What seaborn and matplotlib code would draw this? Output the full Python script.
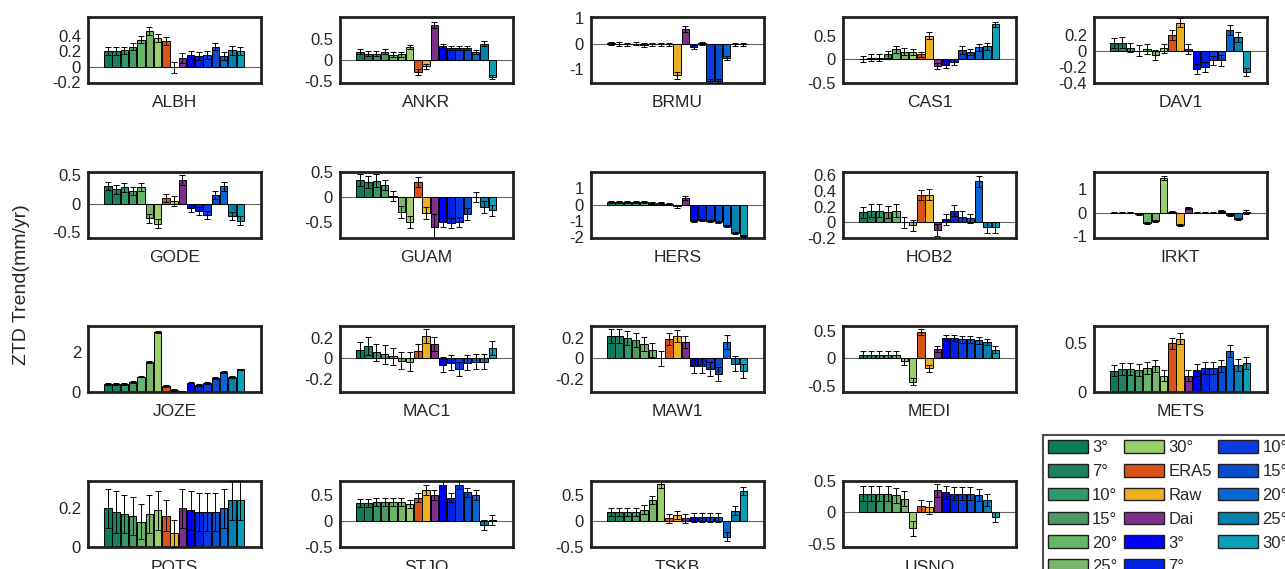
import numpy as np
import pandas as pd
import matplotlib
matplotlib.use('Agg')
import matplotlib.pyplot as plt
from matplotlib.patches import Patch
import seaborn as sns

sns.set_style('white')
plt.rcParams['font.family'] = ['Liberation Sans', 'DejaVu Sans']

# bar order: 7 green angles, ERA5, Raw, Dai, 7 blue angles
bar_keys = ['g3', 'g7', 'g10', 'g15', 'g20', 'g25', 'g30',
            'ERA5', 'Raw', 'Dai',
            'b3', 'b7', 'b10', 'b15', 'b20', 'b25', 'b30']
bar_labels = ['3°', '7°', '10°', '15°', '20°', '25°', '30°',
              'ERA5', 'Raw', 'Dai',
              '3°', '7°', '10°', '15°', '20°', '25°', '30°']
bar_colors = ['#0b7c5b', '#1f8060', '#2f9a68', '#4c9a63', '#63b766', '#7bb56a', '#9bcf6a',
              '#d95319', '#edb120', '#7e2f8e',
              '#0000ff', '#0021e6', '#0a3be0', '#0a4ed0', '#0867d6', '#0581b0', '#0aa0b8']

stations = ['ALBH', 'ANKR', 'BRMU', 'CAS1', 'DAV1',
            'GODE', 'GUAM', 'HERS', 'HOB2', 'IRKT',
            'JOZE', 'MAC1', 'MAW1', 'MEDI', 'METS',
            'POTS', 'STJO', 'TSKB', 'USNO']

ALBH = [0.20, 0.20, 0.21, 0.26, 0.35, 0.46, 0.37, 0.33, -0.01, 0.11, 0.15, 0.14, 0.15, 0.26, 0.14, 0.21, 0.20]
ANKR = [0.20, 0.16, 0.16, 0.20, 0.13, 0.14, 0.32, -0.28, -0.15, 0.84, 0.33, 0.30, 0.29, 0.30, 0.20, 0.40, -0.40]
BRMU = [0.01, -0.02, -0.02, 0.00, -0.05, -0.02, -0.03, -0.03, -1.25, 0.57, -0.15, 0.02, -1.48, -1.48, -0.55, -0.03, -0.03]
CAS1 = [0.00, 0.03, 0.03, 0.10, 0.21, 0.16, 0.15, 0.10, 0.50, -0.15, -0.12, -0.06, 0.20, 0.15, 0.25, 0.27, 0.74]
DAV1 = [0.10, 0.10, 0.04, 0.00, 0.02, -0.05, 0.03, 0.20, 0.35, 0.02, -0.23, -0.20, -0.12, -0.12, 0.26, 0.17, -0.26]
GODE = [0.31, 0.26, 0.29, 0.23, 0.29, -0.25, -0.35, 0.10, 0.05, 0.42, -0.08, -0.12, -0.20, 0.16, 0.31, -0.22, -0.30]
GUAM = [0.35, 0.31, 0.33, 0.24, 0.03, -0.30, -0.50, 0.30, -0.33, -0.60, -0.50, -0.53, -0.50, -0.35, 0.00, -0.20, -0.27]
HERS = [0.18, 0.18, 0.18, 0.18, 0.15, 0.10, 0.07, 0.02, -0.10, 0.40, -1.00, -0.95, -1.00, -1.05, -1.30, -1.75, -1.90]
HOB2 = [0.13, 0.15, 0.15, 0.13, 0.15, 0.00, -0.04, 0.35, 0.35, -0.10, 0.04, 0.15, 0.07, 0.05, 0.52, -0.06, -0.06]
IRKT = [0.00, 0.00, 0.00, -0.05, -0.45, -0.38, 1.50, 0.02, -0.55, 0.20, 0.00, 0.00, 0.00, 0.08, -0.10, -0.27, 0.03]
JOZE = [0.39, 0.39, 0.40, 0.50, 0.76, 1.50, 2.97, 0.30, 0.10, 0.00, 0.47, 0.35, 0.44, 0.68, 0.98, 0.75, 1.12]
MAC1 = [0.08, 0.12, 0.06, 0.04, 0.02, -0.02, -0.03, 0.07, 0.22, 0.14, -0.06, -0.04, -0.10, -0.04, -0.03, -0.03, 0.10]
MAW1 = [0.22, 0.22, 0.20, 0.18, 0.14, 0.08, 0.00, 0.19, 0.22, 0.16, -0.07, -0.07, -0.10, -0.15, 0.16, -0.05, -0.12]
MEDI = [0.07, 0.07, 0.07, 0.07, 0.07, -0.05, -0.42, 0.48, -0.18, 0.17, 0.37, 0.37, 0.35, 0.35, 0.33, 0.30, 0.16]
METS = [0.22, 0.24, 0.24, 0.23, 0.25, 0.27, 0.17, 0.50, 0.55, 0.17, 0.23, 0.25, 0.25, 0.27, 0.42, 0.28, 0.30]
POTS = [0.20, 0.18, 0.17, 0.16, 0.13, 0.17, 0.19, 0.16, 0.07, 0.20, 0.19, 0.18, 0.18, 0.18, 0.20, 0.24, 0.24]
STJO = [0.35, 0.35, 0.37, 0.37, 0.37, 0.36, 0.33, 0.45, 0.60, 0.50, 0.70, 0.45, 0.70, 0.55, 0.50, -0.08, 0.02]
TSKB = [0.17, 0.17, 0.17, 0.18, 0.22, 0.40, 0.72, 0.05, 0.12, 0.05, 0.07, 0.07, 0.07, 0.07, -0.30, 0.20, 0.58]
USNO = [0.30, 0.30, 0.30, 0.30, 0.27, 0.22, -0.25, 0.10, 0.08, 0.35, 0.32, 0.30, 0.30, 0.30, 0.28, 0.20, -0.08]

# error bar half-lengths
ALBH_err = [0.05, 0.05, 0.05, 0.05, 0.05, 0.05, 0.05, 0.05, 0.07, 0.06, 0.05, 0.05, 0.05, 0.04, 0.05, 0.06, 0.05]
ANKR_err = [0.06, 0.06, 0.06, 0.06, 0.06, 0.06, 0.05, 0.07, 0.06, 0.07, 0.06, 0.05, 0.05, 0.05, 0.05, 0.05, 0.05]
BRMU_err = [0.07, 0.07, 0.06, 0.06, 0.08, 0.06, 0.07, 0.06, 0.15, 0.12, 0.08, 0.06, 0.08, 0.08, 0.08, 0.07, 0.06]
CAS1_err = [0.07, 0.08, 0.08, 0.07, 0.07, 0.08, 0.07, 0.06, 0.07, 0.07, 0.08, 0.07, 0.08, 0.07, 0.07, 0.07, 0.06]
DAV1_err = [0.06, 0.07, 0.06, 0.07, 0.06, 0.06, 0.06, 0.06, 0.06, 0.06, 0.06, 0.06, 0.06, 0.07, 0.06, 0.06, 0.05]
GODE_err = [0.07, 0.08, 0.08, 0.07, 0.07, 0.08, 0.08, 0.07, 0.08, 0.09, 0.07, 0.07, 0.07, 0.07, 0.08, 0.07, 0.08]
GUAM_err = [0.12, 0.12, 0.13, 0.10, 0.10, 0.12, 0.12, 0.10, 0.12, 0.25, 0.10, 0.10, 0.10, 0.12, 0.10, 0.12, 0.12]
HERS_err = [0.06, 0.06, 0.06, 0.06, 0.06, 0.06, 0.06, 0.06, 0.08, 0.10, 0.06, 0.06, 0.06, 0.06, 0.06, 0.06, 0.06]
HOB2_err = [0.07, 0.08, 0.08, 0.08, 0.08, 0.07, 0.07, 0.06, 0.07, 0.08, 0.07, 0.07, 0.07, 0.06, 0.07, 0.07, 0.07]
IRKT_err = [0.04, 0.04, 0.04, 0.04, 0.05, 0.05, 0.08, 0.03, 0.04, 0.04, 0.03, 0.03, 0.03, 0.04, 0.04, 0.05, 0.08]
JOZE_err = [0.04, 0.04, 0.04, 0.04, 0.04, 0.04, 0.05, 0.04, 0.04, 0.03, 0.04, 0.04, 0.04, 0.04, 0.04, 0.04, 0.04]
MAC1_err = [0.08, 0.09, 0.08, 0.09, 0.08, 0.08, 0.09, 0.07, 0.07, 0.07, 0.07, 0.07, 0.07, 0.07, 0.07, 0.07, 0.07]
MAW1_err = [0.07, 0.07, 0.07, 0.07, 0.07, 0.07, 0.07, 0.06, 0.06, 0.06, 0.07, 0.07, 0.07, 0.07, 0.07, 0.07, 0.07]
MEDI_err = [0.06, 0.06, 0.06, 0.06, 0.06, 0.06, 0.07, 0.06, 0.07, 0.06, 0.06, 0.06, 0.06, 0.06, 0.06, 0.06, 0.06]
METS_err = [0.06, 0.06, 0.06, 0.06, 0.06, 0.06, 0.06, 0.06, 0.06, 0.06, 0.06, 0.06, 0.06, 0.06, 0.06, 0.06, 0.06]
POTS_err = [0.10, 0.11, 0.10, 0.10, 0.09, 0.10, 0.10, 0.08, 0.07, 0.10, 0.10, 0.10, 0.10, 0.10, 0.10, 0.10, 0.10]
STJO_err = [0.08, 0.08, 0.08, 0.08, 0.08, 0.08, 0.08, 0.08, 0.09, 0.09, 0.09, 0.09, 0.09, 0.09, 0.09, 0.09, 0.09]
TSKB_err = [0.08, 0.08, 0.08, 0.08, 0.08, 0.08, 0.08, 0.08, 0.08, 0.08, 0.08, 0.08, 0.08, 0.08, 0.08, 0.08, 0.08]
USNO_err = [0.12, 0.12, 0.12, 0.12, 0.12, 0.12, 0.12, 0.10, 0.10, 0.10, 0.10, 0.10, 0.10, 0.10, 0.10, 0.10, 0.08]

values = {'ALBH': ALBH, 'ANKR': ANKR, 'BRMU': BRMU, 'CAS1': CAS1, 'DAV1': DAV1,
          'GODE': GODE, 'GUAM': GUAM, 'HERS': HERS, 'HOB2': HOB2, 'IRKT': IRKT,
          'JOZE': JOZE, 'MAC1': MAC1, 'MAW1': MAW1, 'MEDI': MEDI, 'METS': METS,
          'POTS': POTS, 'STJO': STJO, 'TSKB': TSKB, 'USNO': USNO}
errors = {'ALBH': ALBH_err, 'ANKR': ANKR_err, 'BRMU': BRMU_err, 'CAS1': CAS1_err, 'DAV1': DAV1_err,
          'GODE': GODE_err, 'GUAM': GUAM_err, 'HERS': HERS_err, 'HOB2': HOB2_err, 'IRKT': IRKT_err,
          'JOZE': JOZE_err, 'MAC1': MAC1_err, 'MAW1': MAW1_err, 'MEDI': MEDI_err, 'METS': METS_err,
          'POTS': POTS_err, 'STJO': STJO_err, 'TSKB': TSKB_err, 'USNO': USNO_err}

# y ticks and y limits per station
yticks = {'ALBH': [-0.2, 0, 0.2, 0.4], 'ANKR': [-0.5, 0, 0.5], 'BRMU': [-1, 0, 1],
          'CAS1': [-0.5, 0, 0.5], 'DAV1': [-0.4, -0.2, 0, 0.2],
          'GODE': [-0.5, 0, 0.5], 'GUAM': [-0.5, 0, 0.5], 'HERS': [-2, -1, 0, 1],
          'HOB2': [-0.2, 0, 0.2, 0.4, 0.6], 'IRKT': [-1, 0, 1],
          'JOZE': [0, 2], 'MAC1': [-0.2, 0, 0.2], 'MAW1': [-0.2, 0, 0.2],
          'MEDI': [-0.5, 0, 0.5], 'METS': [0, 0.5],
          'POTS': [0, 0.2], 'STJO': [-0.5, 0, 0.5], 'TSKB': [-0.5, 0, 0.5], 'USNO': [-0.5, 0, 0.5]}
ylims = {'ALBH': (-0.21, 0.64), 'ANKR': (-0.55, 1.04), 'BRMU': (-1.55, 1.05),
         'CAS1': (-0.51, 0.9), 'DAV1': (-0.4, 0.42),
         'GODE': (-0.6, 0.56), 'GUAM': (-0.83, 0.51), 'HERS': (-2.05, 2.0),
         'HOB2': (-0.2, 0.64), 'IRKT': (-1.1, 1.75),
         'JOZE': (0, 3.27), 'MAC1': (-0.33, 0.32), 'MAW1': (-0.33, 0.32),
         'MEDI': (-0.61, 0.59), 'METS': (0, 0.68),
         'POTS': (0, 0.34), 'STJO': (-0.48, 0.77), 'TSKB': (-0.48, 0.77), 'USNO': (-0.55, 0.5)}

W, H = 1285, 569
fig = plt.figure(figsize=(W / 100, H / 100), dpi=100)

col_left = [88, 340, 591, 843, 1094]
row_top = [17, 172, 326, 481]
ax_w, ax_h = 173, 66

palette = dict(zip(bar_keys, bar_colors))

for i, st in enumerate(stations):
    r, c = divmod(i, 5)
    ax = fig.add_axes([col_left[c] / W, 1 - (row_top[r] + ax_h) / H, ax_w / W, ax_h / H])
    df = pd.DataFrame({'key': bar_keys, 'val': values[st]})
    sns.barplot(data=df, x='key', y='val', hue='key', palette=palette, order=bar_keys,
                hue_order=bar_keys, legend=False, width=0.9, edgecolor='black',
                linewidth=0.7, errorbar=None, saturation=1, ax=ax)
    ax.errorbar(np.arange(len(bar_keys)), values[st], yerr=errors[st], fmt='none',
                ecolor='black', elinewidth=0.7, capsize=2, capthick=0.7, zorder=5)
    ax.axhline(0, color='#666666', lw=0.8, zorder=0)
    ax.set_xlim(-2.4, 18.5)
    ax.set_ylim(*ylims[st])
    ax.set_yticks(yticks[st])
    ax.set_yticklabels(['%g' % t for t in yticks[st]])
    ax.set_xticks([])
    ax.set_ylabel('')
    ax.set_xlabel(st, fontsize=12.5, color='#262626', labelpad=9)
    ax.tick_params(axis='y', length=0, pad=5, labelsize=12, labelcolor='#262626')
    for sp in ax.spines.values():
        sp.set_visible(True)
        sp.set_linewidth(2)
        sp.set_color('#202020')

fig.text(22 / W, 1 - 285 / H, 'ZTD Trend(mm/yr)', rotation=90, ha='center', va='center',
         fontsize=14, color='#262626')

handles = [Patch(facecolor=col, edgecolor='#202020', linewidth=1) for col in bar_colors]
leg = fig.legend(handles, bar_labels, ncol=3, loc='upper left',
                 bbox_to_anchor=(1043 / W, 1 - 435 / H), fontsize=12,
                 frameon=True, fancybox=False, edgecolor='#202020',
                 handlelength=2.4, handleheight=0.8, handletextpad=0.25,
                 labelspacing=0.52, columnspacing=0.4, borderpad=0.3, borderaxespad=0)
leg.get_frame().set_linewidth(1.5)

fig.savefig('out.png', dpi=100)
